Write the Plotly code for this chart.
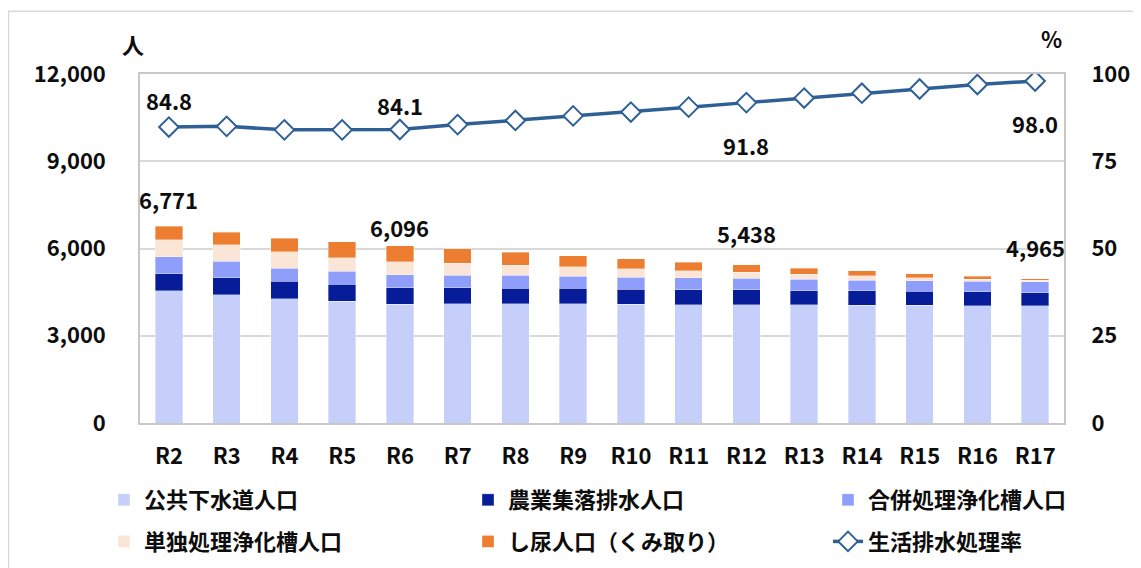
import plotly.graph_objects as go

# ---- data ----
years = ["R2", "R3", "R4", "R5", "R6", "R7", "R8", "R9", "R10", "R11", "R12", "R13", "R14", "R15", "R16", "R17"]
sewer = [4554, 4416, 4278, 4187, 4090, 4095, 4095, 4095, 4083, 4072, 4070, 4060, 4049, 4049, 4037, 4025]
rural = [573, 585, 597, 585, 553, 562, 539, 539, 516, 516, 510, 494, 493, 482, 471, 450]
combined = [585, 562, 447, 447, 460, 424, 447, 413, 413, 401, 395, 390, 367, 367, 367, 385]
single = [597, 573, 574, 459, 448, 413, 344, 321, 287, 241, 210, 172, 149, 103, 69, 50]
nightsoil = [462, 425, 458, 550, 545, 493, 448, 378, 344, 299, 253, 206, 172, 138, 103, 55]
rate = [84.8, 85.0, 84.0, 84.0, 84.1, 85.5, 86.7, 88.0, 89.1, 90.5, 91.8, 93.1, 94.5, 95.7, 97.0, 98.0]

names = ["公共下水道人口", "農業集落排水人口", "合併処理浄化槽人口", "単独処理浄化槽人口", "し尿人口（くみ取り）"]
line_name = "生活排水処理率"
labelled = [0, 4, 10, 15]

# ---- style ----
FONT = "Noto Sans CJK JP"
colors = ["#C6CEFA", "#061C99", "#8E9EFA", "#FBE5D6", "#ED7D31"]
legend_of = ["legend", "legend2", "legend3", "legend", "legend2"]
line_color = "#2E6096"
bar_shift = [27, 19, 32, 32]
rate_shift = [27, 24, -42, -42]

totals = [a + b + c + d + e for a, b, c, d, e in zip(sewer, rural, combined, single, nightsoil)]

fig = go.Figure()
for i, (nm, vals) in enumerate(zip(names, [sewer, rural, combined, single, nightsoil])):
    fig.add_trace(go.Bar(
        x=years, y=vals, name=nm, marker=dict(color=colors[i], line=dict(width=0.6, color="rgba(255,255,255,0.6)")),
        legend=legend_of[i], legendgroup=nm,
    ))
fig.add_trace(go.Scatter(
    x=years, y=rate, name=line_name, yaxis="y2", mode="lines+markers",
    line=dict(color=line_color, width=3.5),
    marker=dict(symbol="diamond", size=15, color="white", line=dict(color=line_color, width=2)),
    legend="legend3", legendgroup=line_name,
))

font = dict(family=FONT, size=22, color="#0d0d0d", weight="bold")

annotations = []
for k, i in enumerate(labelled):
    annotations.append(dict(x=years[i], y=totals[i], xref="x", yref="y", text=f"{totals[i]:,}",
                            showarrow=False, yanchor="middle", yshift=bar_shift[k], font=font))
    annotations.append(dict(x=years[i], y=rate[i], xref="x", yref="y2", text=f"{rate[i]:.1f}",
                            showarrow=False, yanchor="middle", yshift=rate_shift[k], font=font))
annotations.append(dict(x=-0.008, y=1.087, xref="paper", yref="paper", text="人", showarrow=False,
                        xanchor="center", yanchor="middle", font=font))
annotations.append(dict(x=0.987, y=1.102, xref="paper", yref="paper", text="%", showarrow=False,
                        xanchor="center", yanchor="middle", font=font))

leg_common = dict(font=font, yanchor="top", xanchor="left", y=-0.1605, orientation="v",
                  traceorder="grouped", tracegroupgap=10, bgcolor="rgba(0,0,0,0)")

fig.update_layout(
    width=1133, height=560,
    margin=dict(l=132, r=77, t=66, b=145, autoexpand=False),
    paper_bgcolor="white", plot_bgcolor="white",
    barmode="stack", bargap=0.527,
    font=font,
    xaxis=dict(range=[-0.5, len(years) - 0.5], showline=True, linecolor="#c8c8c8", linewidth=1.5,
               mirror=True, ticks="", tickfont=font, ticklabelstandoff=13),
    yaxis=dict(range=[0, 12000], dtick=3000, tickformat=",", showgrid=True, gridcolor="#d9d9d9",
               gridwidth=1.5, showline=True, linecolor="#c8c8c8", linewidth=1.5, mirror=True,
               tickfont=font, ticklabelstandoff=28, zeroline=False),
    yaxis2=dict(range=[0, 100], dtick=25, overlaying="y", side="right", showgrid=False,
                tickfont=font, ticks="outside", ticklen=22, tickcolor="rgba(0,0,0,0)",
                zeroline=False, showline=False),
    legend=dict(x=-0.039, **leg_common),
    legend2=dict(x=0.355, **leg_common),
    legend3=dict(x=0.7446, **leg_common),
    annotations=annotations,
    shapes=[dict(type="rect", xref="paper", yref="paper", x0=-0.1423, x1=1.12, y0=-0.5, y1=1.1797,
                 line=dict(color="#d9d9d9", width=1.5), fillcolor="rgba(0,0,0,0)", layer="below")],
)

fig.write_html("out.html")
